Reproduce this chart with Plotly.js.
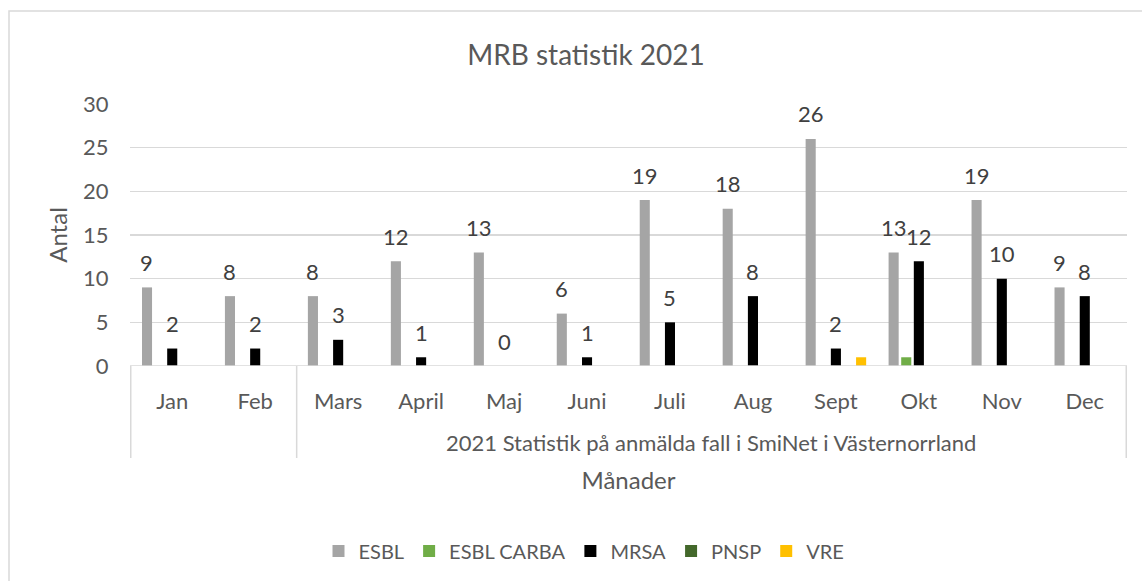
<!DOCTYPE html>
<html>
<head>
<meta charset="utf-8">
<script src="https://cdn.plot.ly/plotly-3.0.1.min.js"></script>
<style>
  html, body { margin: 0; padding: 0; background: #fff; }
  #chart { width: 1142px; height: 581px; }
</style>
</head>
<body>
<div id="chart"></div>
<script>
// ---- Data ----
const months = ["Jan", "Feb", "Mars", "April", "Maj", "Juni", "Juli", "Aug", "Sept", "Okt", "Nov", "Dec"];
const esbl      = [9, 8, 8, 12, 13, 6, 19, 18, 26, 13, 19, 9];
const esblCarba = [null, null, null, null, null, null, null, null, null, 1, null, null];
const mrsa      = [2, 2, 3, 1, 0, 1, 5, 8, 2, 12, 10, 8];
const pnsp      = [null, null, null, null, null, null, null, null, null, null, null, null];
const vre       = [null, null, null, null, null, null, null, null, 1, null, null, null];
const groupLabel = "2021 Statistik på anmälda fall i SmiNet i Västernorrland";
const groupStart = "Mars";   // first month of the labelled group
const groupEnd = "Dec";
const chartTitle = "MRB statistik 2021";
const yTitle = "Antal";
const xTitle = "Månader";

// ---- Style ----
const FONT = "Lato, 'Open Sans', sans-serif";
const TXT = "#595959";
const GRID = "#d9d9d9";
const W = 1142, H = 581;
const L = 130, R = 15, T = 104, B = 215;
const plotW = W - L - R, plotH = H - T - B;
const px2paperX = px => (px - L) / plotW;
const px2paperY = py => (H - B - py) / plotH;

function barTrace(name, y, color) {
  return { type: "bar", name: name, x: months, y: y,
           marker: { color: color }, hoverinfo: "x+y+name" };
}
const traces = [
  barTrace("ESBL", esbl, "#a5a5a5"),
  barTrace("ESBL CARBA", esblCarba, "#70ad47"),
  barTrace("MRSA", mrsa, "#000000"),
  barTrace("PNSP", pnsp, "#43682b"),
  barTrace("VRE", vre, "#ffc000")
];

const slot = plotW / months.length * (1 - 0.24) / 5;
const annotations = [];
function addLabels(vals, slotIndex) {
  vals.forEach((v, i) => {
    if (v === null) return;
    annotations.push({ x: months[i], y: v, xref: "x", yref: "y", text: String(v),
      showarrow: false, xshift: (slotIndex - 2) * slot, yshift: 25,
      yanchor: "middle", xanchor: "center",
      font: { family: FONT, size: 22, color: "#404040" } });
  });
}
addLabels(esbl, 0);
addLabels(mrsa, 2);

const gi0 = months.indexOf(groupStart), gi1 = months.indexOf(groupEnd);
annotations.push({ x: (gi0 + gi1) / 2, y: px2paperY(442), xref: "x", yref: "paper",
  text: groupLabel, showarrow: false, yanchor: "middle",
  font: { family: FONT, size: 22, color: TXT } });

const lineStyle = { color: GRID, width: 1.5 };
const shapes = [];
[-0.5, gi0 - 0.5, months.length - 0.5].forEach(xv => {
  shapes.push({ type: "line", xref: "x", yref: "paper", x0: xv, x1: xv,
    y0: 0, y1: px2paperY(458), line: lineStyle });
});
shapes.push({ type: "line", xref: "paper", yref: "y", x0: 0, x1: 1, y0: 0, y1: 0, line: lineStyle });
// chart-area border
shapes.push({ type: "rect", xref: "paper", yref: "paper",
  x0: px2paperX(9), x1: px2paperX(1160), y0: px2paperY(11), y1: px2paperY(600),
  line: lineStyle, fillcolor: "rgba(0,0,0,0)", layer: "below" });

const layout = {
  width: W, height: H,
  margin: { l: L, r: R, t: T, b: B, pad: 0 },
  paper_bgcolor: "#fff", plot_bgcolor: "#fff",
  font: { family: FONT, color: TXT },
  title: { text: chartTitle, x: 586 / W, xref: "container", xanchor: "center",
           y: 1 - 55 / H, yref: "container", yanchor: "middle",
           font: { family: FONT, size: 28, color: TXT } },
  barmode: "group", bargap: 0.24, bargroupgap: 0.2,
  xaxis: { type: "category", showgrid: false, zeroline: false, showline: false,
           ticks: "outside", ticklen: 16, tickcolor: "rgba(0,0,0,0)",
           tickfont: { family: FONT, size: 22, color: TXT },
           title: { text: xTitle, standoff: 58, font: { family: FONT, size: 24, color: TXT } },
           fixedrange: true },
  yaxis: { range: [0, 30], dtick: 5, showgrid: true, gridcolor: GRID, gridwidth: 1.5,
           zeroline: false, showline: false,
           ticks: "outside", ticklen: 16, tickcolor: "rgba(0,0,0,0)",
           tickfont: { family: FONT, size: 22, color: TXT },
           title: { text: yTitle, standoff: 8, font: { family: FONT, size: 24, color: TXT } },
           fixedrange: true },
  showlegend: true,
  legend: { orientation: "h", xref: "container", yref: "container",
            x: 584 / W, xanchor: "center", y: 1 - 551 / H, yanchor: "middle",
            font: { family: FONT, size: 20, color: TXT }, traceorder: "normal" },
  annotations: annotations,
  shapes: shapes
};

Plotly.newPlot("chart", traces, layout, { displayModeBar: false, staticPlot: true });
</script>
</body>
</html>
